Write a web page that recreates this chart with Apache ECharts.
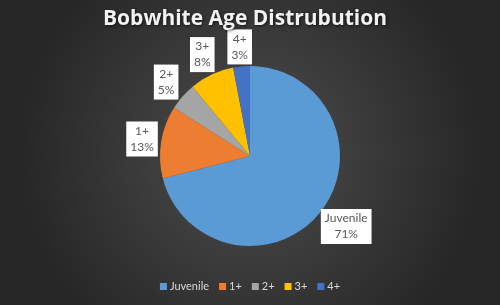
<!DOCTYPE html>
<html>
<head>
<meta charset="utf-8">
<script src="https://cdn.jsdelivr.net/npm/echarts@6/dist/echarts.min.js"></script>
<style>
html,body{margin:0;padding:0;background:#2b2b2b;}
#c{width:500px;height:305px;}
</style>
</head>
<body>
<div id="c"></div>
<script>
const categories = ['Juvenile', '1+', '2+', '3+', '4+'];
const percents = [71, 13, 5, 8, 3];
const colors = ['#5B9BD5', '#ED7D31', '#A5A5A5', '#FFC000', '#4472C4'];

const CENTER = [250, 156];
const RADIUS = 90;

// mid-angle (clockwise from 12 o'clock) of each slice, computed from the data
const total = percents.reduce((a, b) => a + b, 0);
const midAngles = [];
(function () {
  let acc = 0;
  percents.forEach(v => {
    midAngles.push(((acc + v / 2) / total) * 2 * Math.PI);
    acc += v;
  });
})();

const chart = echarts.init(document.getElementById('c'));
chart.setOption({
  backgroundColor: {
    type: 'radial', x: 0.5, y: 0.5, r: 0.75,
    colorStops: [
      {offset: 0, color: '#4e4e4e'},
      {offset: 1, color: '#272727'}
    ]
  },
  title: {
    text: 'Bobwhite Age Distrubution',
    left: 98,
    top: 4,
    textStyle: {
      color: '#f2f2f2', fontFamily: 'Open Sans', fontWeight: 'bold', fontSize: 21,
      textShadowColor: 'rgba(0,0,0,0.6)', textShadowBlur: 3, textShadowOffsetX: 1, textShadowOffsetY: 1
    }
  },
  legend: {
    bottom: 8,
    left: 'center',
    itemWidth: 7, itemHeight: 7, itemGap: 10,
    icon: 'rect',
    textStyle: {color: '#d9d9d9', fontFamily: 'Lato', fontSize: 11, padding: [0,0,0,-2]},
    data: categories
  },
  series: [{
    type: 'pie',
    center: CENTER,
    radius: RADIUS,
    startAngle: 90,
    clockwise: true,
    avoidLabelOverlap: false,
    color: colors,
    data: categories.map((n, i) => ({name: n, value: percents[i]})),
    label: {
      show: true,
      position: 'outside',
      formatter: '{b}\n{c}%',
      color: '#595959',
      fontFamily: 'Lato',
      fontSize: 12,
      lineHeight: 16,
      backgroundColor: '#ffffff',
      padding: [2, 4, 1, 4]
    },
    labelLine: {show: false},
    labelLayout: function (p) {
      const a = midAngles[p.dataIndex];
      const ux = Math.sin(a), uy = -Math.cos(a);
      const ex = CENTER[0] + RADIUS * ux, ey = CENTER[1] + RADIUS * uy;
      const w = p.labelRect.width, h = p.labelRect.height;
      const d = Math.abs(ux) * w / 2 + Math.abs(uy) * h / 2 + 1;
      return {
        x: ex + ux * d,
        y: ey + uy * d - (uy > 0 ? 4 : 0),
        align: 'center',
        verticalAlign: 'middle'
      };
    },
    itemStyle: {borderWidth: 0},
    emphasis: {disabled: true}
  }]
});
</script>
</body>
</html>
